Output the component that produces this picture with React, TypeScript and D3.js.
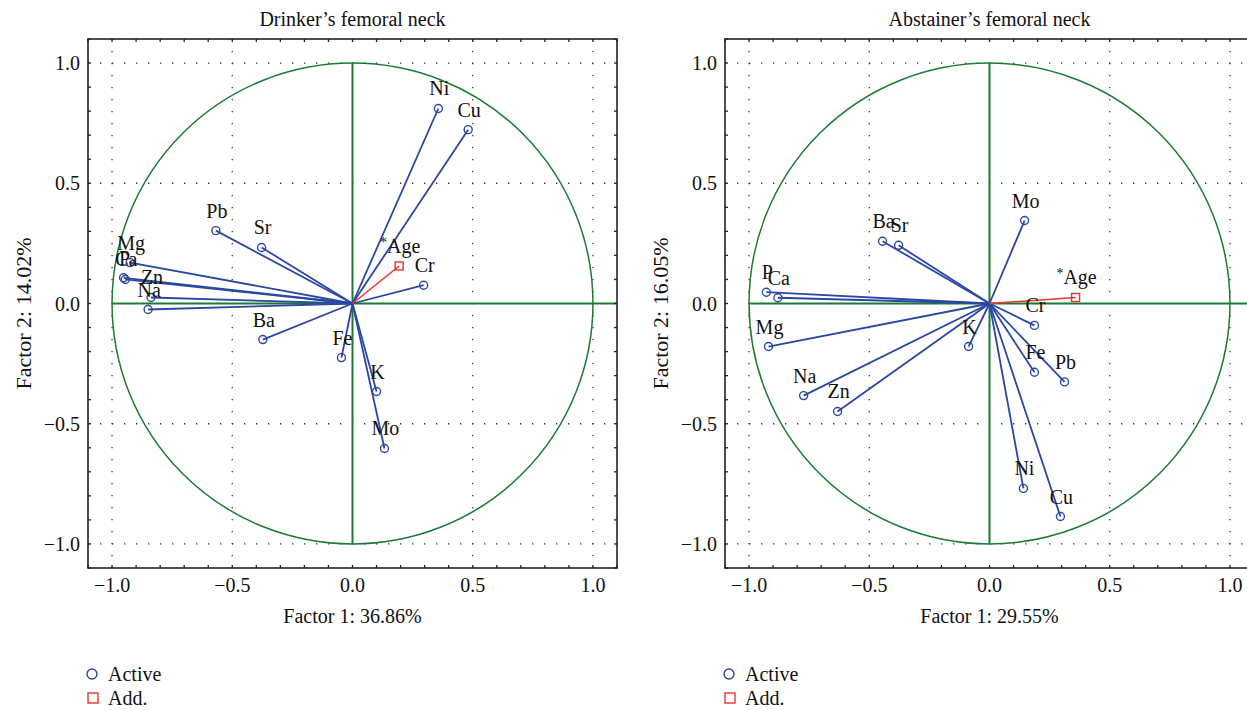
import React from "react";
import * as d3 from "d3";

// Variable names and factor loadings for each panel
const drinkerNames = ["Ni", "Cu", "Pb", "Sr", "Mg", "P", "Ca", "Zn", "Na", "Cr", "Ba", "Fe", "K", "Mo"];
const drinkerF1 = [0.357, 0.481, -0.568, -0.378, -0.925, -0.952, -0.945, -0.838, -0.85, 0.296, -0.373, -0.046, 0.1, 0.133];
const drinkerF2 = [0.811, 0.723, 0.303, 0.233, 0.17, 0.107, 0.1, 0.025, -0.025, 0.076, -0.15, -0.225, -0.366, -0.603];
const drinkerAge = [0.194, 0.156];

const abstainerNames = ["Mo", "Ba", "Sr", "P", "Ca", "Mg", "Na", "Zn", "K", "Cr", "Fe", "Pb", "Ni", "Cu"];
const abstainerF1 = [0.146, -0.445, -0.378, -0.928, -0.88, -0.919, -0.773, -0.632, -0.087, 0.187, 0.187, 0.312, 0.141, 0.295];
const abstainerF2 = [0.345, 0.259, 0.242, 0.047, 0.024, -0.179, -0.383, -0.449, -0.179, -0.091, -0.286, -0.326, -0.769, -0.886];
const abstainerAge = [0.358, 0.025];

const panels = [
  {
    title: "Drinker\u2019s femoral neck",
    xLabel: "Factor 1: 36.86%",
    yLabel: "Factor 2: 14.02%",
    names: drinkerNames,
    f1: drinkerF1,
    f2: drinkerF2,
    age: drinkerAge,
    left: 88,
  },
  {
    title: "Abstainer\u2019s femoral neck",
    xLabel: "Factor 1: 29.55%",
    yLabel: "Factor 2: 16.05%",
    names: abstainerNames,
    f1: abstainerF1,
    f2: abstainerF2,
    age: abstainerAge,
    left: 725,
  },
];

const majorTicks = [-1, -0.5, 0, 0.5, 1];
const minorTicks = d3.range(-11, 12).map((d) => d / 10);
const gridLines = [-1, -0.5, 0.5, 1];

const BLUE = "#2a47a3";
const RED = "#e8322e";
const GREEN = "#1d7a35";
const FONT = "'Liberation Serif', 'DejaVu Serif', serif";
const fmt = d3.format(".1f");

const TOP = 39;
const SIZE = 529;

function Panel({ p }: { p: (typeof panels)[number] }) {
  const x = d3.scaleLinear().domain([-1.1, 1.1]).range([p.left, p.left + SIZE]);
  const y = d3.scaleLinear().domain([-1.1, 1.1]).range([TOP + SIZE, TOP]);
  const cx = x(0);
  const cy = y(0);
  const r = x(1) - x(0);
  const right = p.left + SIZE;
  const bottom = TOP + SIZE;

  return (
    <g>
      <text x={cx} y={26} textAnchor="middle" fontSize={20} fontFamily={FONT} fill="#111">
        {p.title}
      </text>
      {/* dotted grid */}
      {gridLines.map((v) => (
        <line key={"gx" + v} x1={x(v)} x2={x(v)} y1={TOP} y2={bottom} stroke="#333" strokeWidth={1.3} strokeDasharray="1.3,10.7" />
      ))}
      {gridLines.map((v) => (
        <line key={"gy" + v} x1={p.left} x2={right} y1={y(v)} y2={y(v)} stroke="#333" strokeWidth={1.3} strokeDasharray="1.3,10.7" />
      ))}
      {/* unit circle and axes */}
      <circle cx={cx} cy={cy} r={r} fill="none" stroke={GREEN} strokeWidth={1.5} />
      <line x1={x(-1)} x2={right} y1={cy} y2={cy} stroke={GREEN} strokeWidth={2} />
      <line x1={cx} x2={cx} y1={y(1)} y2={y(-1)} stroke={GREEN} strokeWidth={2} />
      {/* loading vectors */}
      {p.names.map((n, i) => (
        <line key={"l" + n} x1={cx} y1={cy} x2={x(p.f1[i])} y2={y(p.f2[i])} stroke={BLUE} strokeWidth={1.8} />
      ))}
      <line x1={cx} y1={cy} x2={x(p.age[0])} y2={y(p.age[1])} stroke={RED} strokeWidth={1.5} />
      {p.names.map((n, i) => (
        <circle key={"c" + n} cx={x(p.f1[i])} cy={y(p.f2[i])} r={4} fill="none" stroke={BLUE} strokeWidth={1.4} />
      ))}
      <rect x={x(p.age[0]) - 4} y={y(p.age[1]) - 4} width={8} height={8} fill="none" stroke={RED} strokeWidth={1.4} />
      {p.names.map((n, i) => (
        <text key={"t" + n} x={x(p.f1[i]) + 1} y={y(p.f2[i]) - 13} textAnchor="middle" fontSize={20} fontFamily={FONT} fill="#111">
          {n}
        </text>
      ))}
      <text x={x(p.age[0]) + 1} y={y(p.age[1]) - 13} textAnchor="middle" fontSize={20} fontFamily={FONT} fill="#111">
        <tspan fontSize={14} dy={-6}>*</tspan>
        <tspan dy={6}>Age</tspan>
      </text>
      {/* frame */}
      <rect x={p.left} y={TOP} width={SIZE} height={SIZE} fill="none" stroke="#222" strokeWidth={1.6} />
      {minorTicks.map((v) => (
        <g key={"m" + v}>
          <line x1={x(v)} x2={x(v)} y1={TOP} y2={TOP + 3} stroke="#222" strokeWidth={1.3} />
          <line x1={x(v)} x2={x(v)} y1={bottom} y2={bottom - 3} stroke="#222" strokeWidth={1.3} />
          <line x1={p.left} x2={p.left + 3} y1={y(v)} y2={y(v)} stroke="#222" strokeWidth={1.3} />
          <line x1={right} x2={right - 3} y1={y(v)} y2={y(v)} stroke="#222" strokeWidth={1.3} />
        </g>
      ))}
      {majorTicks.map((v) => (
        <text key={"xt" + v} x={x(v)} y={592} textAnchor="middle" fontSize={20} fontFamily={FONT} fill="#111">
          {fmt(v)}
        </text>
      ))}
      {majorTicks.map((v) => (
        <text key={"yt" + v} x={p.left - 8} y={y(v) + 7} textAnchor="end" fontSize={20} fontFamily={FONT} fill="#111">
          {fmt(v)}
        </text>
      ))}
      <text x={cx} y={623} textAnchor="middle" fontSize={20} fontFamily={FONT} fill="#111">
        {p.xLabel}
      </text>
      <text
        transform={`translate(${p.left - 57},${cy + 10}) rotate(-90)`}
        textAnchor="middle"
        fontSize={22}
        fontFamily={FONT}
        fill="#111"
      >
        {p.yLabel}
      </text>
      {/* legend */}
      <circle cx={p.left + 4} cy={674} r={5} fill="none" stroke={BLUE} strokeWidth={1.4} />
      <text x={p.left + 20} y={681} fontSize={20} fontFamily={FONT} fill="#111">Active</text>
      <rect x={p.left} y={693} width={10} height={10} fill="none" stroke={RED} strokeWidth={1.4} />
      <text x={p.left + 20} y={705} fontSize={20} fontFamily={FONT} fill="#111">Add.</text>
    </g>
  );
}

export default function App() {
  return (
    <svg
      width={1247}
      height={710}
      style={{ position: "absolute", left: 0, top: 0, display: "block", background: "#fff" }}
    >
      <rect width={1247} height={710} fill="#fff" />
      {panels.map((p) => (
        <Panel key={p.title} p={p} />
      ))}
    </svg>
  );
}
